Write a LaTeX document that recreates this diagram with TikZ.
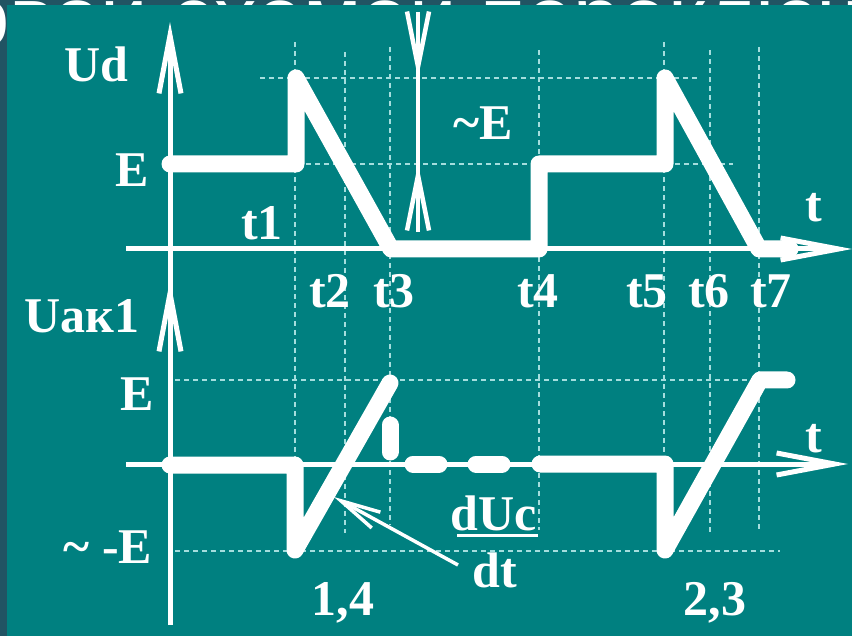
\documentclass[tikz,border=0pt]{standalone}
\usepackage{fontspec}
\setmainfont{Liberation Serif}
\newfontfamily\titlefont{Liberation Sans}
\usetikzlibrary{arrows.meta}
\definecolor{panel}{RGB}{0,128,128}
\definecolor{band}{RGB}{33,84,99}
\definecolor{gridc}{RGB}{165,222,222}
\tikzset{
  axtip/.tip={Straight Barb[length=58pt,width=22pt]},
  etip/.tip={Straight Barb[length=55pt,width=22pt]},
  ptip/.tip={Straight Barb[length=40pt,width=18pt]},
  wave/.style={white, line width=17pt, line cap=round, line join=round},
  axisline/.style={white, line width=5pt},
  gridline/.style={gridc, line width=1.3pt, dash pattern=on 5pt off 4pt},
  lbl/.style={text=white, font=\bfseries\fontsize{50}{60}\selectfont, inner sep=0pt, anchor=base},
}
\begin{document}
\begin{tikzpicture}[x=1pt,y=-1pt]
\useasboundingbox (0,0) rectangle (852,636);
% slide background and cut-off title
\fill[band] (0,0) rectangle (852,636);
\begin{scope}
\clip (0,0) rectangle (852,636);
\node[anchor=base west, inner sep=0pt, text=white, font=\titlefont\fontsize{85}{90}\selectfont] (title) at (-38,47) {\smash{овой схемой переключения}};
\end{scope}
\fill[panel] (7,5) rectangle (852,636);

% grid lines
\draw[gridline] (260,78) -- (697,78);
\draw[gridline] (297,164) -- (733,164);
\draw[gridline] (175,380) -- (748,380);
\draw[gridline] (175,551) -- (780,551);
\draw[gridline] (295,42) -- (295,557);
\draw[gridline] (345,52) -- (345,533);
\draw[gridline] (390,47) -- (390,525);
\draw[gridline] (539,50) -- (539,530);
\draw[gridline] (664,42) -- (664,551);
\draw[gridline] (710,50) -- (710,533);
\draw[gridline] (759,47) -- (759,530);

% axes
\draw[axisline,-axtip] (170,625) -- (170,22);
\draw[axisline,-axtip] (170,345) -- (170,280);
\draw[axisline,-axtip] (126,249) -- (852,249);
\draw[axisline,-axtip] (126,464) -- (848,464);

% ~E marker arrows
\draw[white, line width=4.5pt] (418,12) -- (418,232);
\draw[white, line width=4.5pt, -etip] (418,12) -- (418,78);
\draw[white, line width=4.5pt, -etip] (418,232) -- (418,164);

% waveform Ud
\draw[wave] (170,164) -- (296,164) -- (296,78) -- (391,249) -- (539,249) -- (539,164)
  -- (665,164) -- (665,78) -- (759,249) -- (790,249);

% waveform Uak1
\draw[wave] (170,465) -- (295,465) -- (295,550) -- (390,383);
\draw[wave] (390,425) -- (390,452);
\draw[wave] (413,464) -- (439,464);
\draw[wave] (476,464) -- (502,464);
\draw[wave] (540,464) -- (665,464) -- (665,550) -- (760,380) -- (787,380);

% labels
\node[lbl] (ud) at (96,82) {Ud};
\node[lbl] (e1) at (132,187) {E};
\node[lbl] (t1) at (262,240) {t1};
\node[lbl] (te) at (483,140) {\char"7E E};
\node[lbl] (tt1) at (814,222) {t};
\node[lbl] (t2) at (330,308) {t2};
\node[lbl] (t3) at (394,308) {t3};
\node[lbl] (t4) at (538,308) {t4};
\node[lbl] (t5) at (647,308) {t5};
\node[lbl] (t6) at (709,308) {t6};
\node[lbl] (t7) at (771,308) {t7};
\node[lbl] (uak) at (82,333) {Uaк1};
\node[lbl] (e2) at (137,410) {E};
\node[lbl] (me) at (108,563) {\char"7E\ -E};
\node[lbl] (n14) at (343,615) {1,4};
\node[lbl] (n23) at (715,615) {2,3};
\node[lbl] (tt2) at (814,452) {t};
\node[lbl] (duc) at (494,530) {dUc};
\node[lbl] (dt) at (495,587) {dt};
\draw[white, line width=3pt] (457,535) -- (538,535);

% dUc/dt pointer
\coordinate (pstart) at (458,565);
\coordinate (pslope) at (334,497);
\draw[white, line width=3.5pt, -ptip] (pstart) -- (pslope);
\end{tikzpicture}
\end{document}
